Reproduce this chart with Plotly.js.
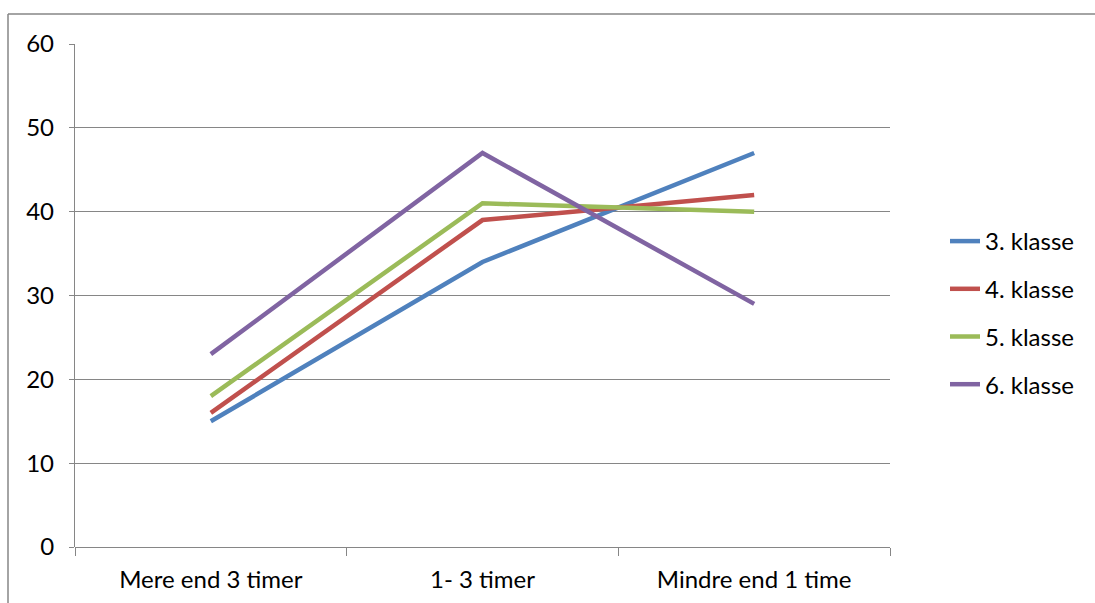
<!DOCTYPE html>
<html>
<head>
<meta charset="utf-8">
<script src="https://cdn.plot.ly/plotly-3.0.1.min.js"></script>
<style>
  html, body { margin: 0; padding: 0; background: #fff; }
  #chart { width: 1095px; height: 603px; }
</style>
</head>
<body>
<div id="chart"></div>
<script>
const categories = ["Mere end 3 timer", "1- 3 timer", "Mindre end 1 time"];
const seriesNames = ["3. klasse", "4. klasse", "5. klasse", "6. klasse"];
const klasse3 = [15, 34, 47];
const klasse4 = [16, 39, 42];
const klasse5 = [18, 41, 40];
const klasse6 = [23, 47, 29];
const yTicks = [0, 10, 20, 30, 40, 50, 60];

const colors = ["#4F81BD", "#C0504D", "#9BBB59", "#8064A2"];
const seriesValues = [klasse3, klasse4, klasse5, klasse6];

const fontFam = "Lato, 'Open Sans', sans-serif";
const fs = 24;

const traces = seriesValues.map((vals, i) => ({
  type: "scatter",
  mode: "lines",
  x: categories,
  y: vals,
  name: seriesNames[i],
  legendgroup: "g" + i,
  line: { color: colors[i], width: 4.5 },
  hoverinfo: "x+y+name"
}));

// margins so that the plot area is x 75..890, y 44..547
const L = 75, R = 1095 - 890, T = 44, B = 603 - 547;
const pw = 1095 - L - R, ph = 603 - T - B;
const px = v => (v - L) / pw;
const py = v => (603 - B - v) / ph;

const layout = {
  width: 1095,
  height: 603,
  margin: { l: L, r: R, t: T, b: B, pad: 0 },
  paper_bgcolor: "#ffffff",
  plot_bgcolor: "#ffffff",
  font: { family: fontFam, size: fs, color: "#000" },
  showlegend: true,
  legend: {
    x: px(945), xanchor: "left",
    y: py(219), yanchor: "top",
    font: { family: fontFam, size: fs, color: "#000" },
    tracegroupgap: 13.5,
    bgcolor: "rgba(0,0,0,0)"
  },
  xaxis: {
    type: "category",
    range: [-0.5, 2.5],
    showgrid: false,
    showline: false,
    zeroline: false,
    ticks: "outside",
    tickson: "boundaries",
    ticklen: 8,
    tickwidth: 1.3,
    tickcolor: "#868686",
    ticklabelstandoff: 16,
    tickfont: { family: fontFam, size: fs, color: "#000" }
  },
  yaxis: {
    range: [0, 60],
    tickvals: yTicks,
    ticktext: yTicks.map(String),
    showgrid: true,
    gridcolor: "#868686",
    gridwidth: 1.3,
    showline: true,
    linecolor: "#868686",
    linewidth: 1.3,
    zeroline: true,
    zerolinecolor: "#868686",
    zerolinewidth: 1.3,
    ticks: "outside",
    ticklen: 5,
    tickwidth: 1.3,
    tickcolor: "#868686",
    ticklabelstandoff: 10,
    tickfont: { family: fontFam, size: fs, color: "#000" }
  },
  shapes: [
    { type: "line", xref: "paper", yref: "paper",
      x0: px(8), x1: px(1100), y0: py(14), y1: py(14),
      line: { color: "#868686", width: 1.5 } },
    { type: "line", xref: "paper", yref: "paper",
      x0: px(8), x1: px(8), y0: py(14), y1: py(610),
      line: { color: "#868686", width: 1.5 } }
  ]
};

Plotly.newPlot("chart", traces, layout, { displayModeBar: false, responsive: false });
</script>
</body>
</html>
